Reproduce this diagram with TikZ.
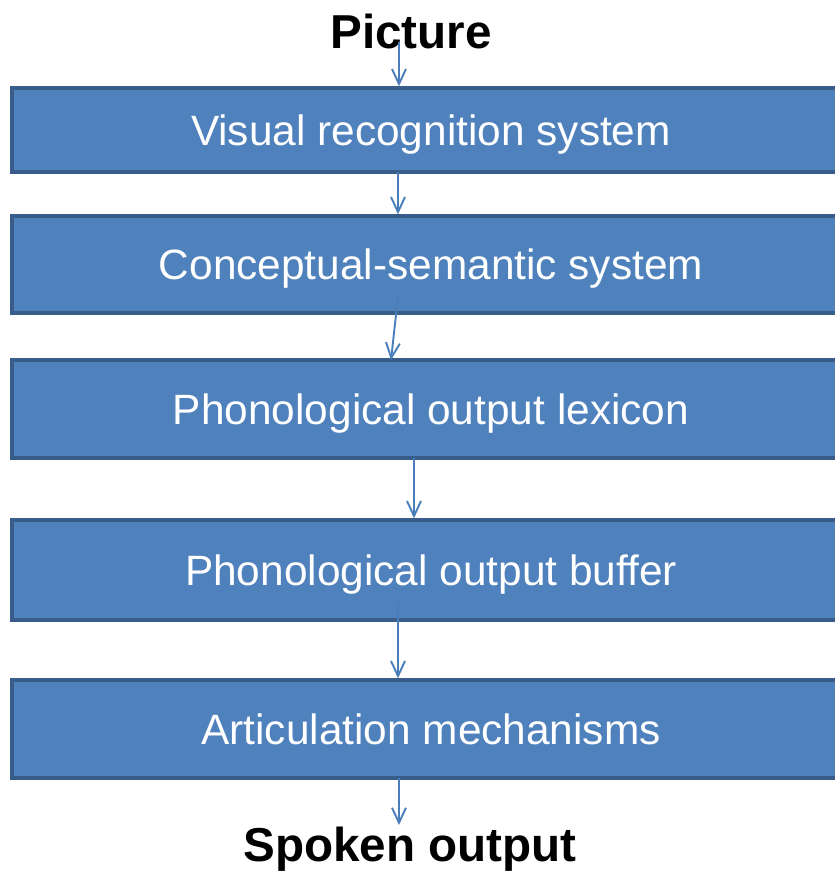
\documentclass[tikz,border=0pt]{standalone}
\usepackage{fontspec}
\setmainfont{Liberation Sans}
\usetikzlibrary{arrows.meta}
\definecolor{boxfill}{HTML}{4F81BD}
\definecolor{boxline}{HTML}{385D8A}
\definecolor{arrowc}{HTML}{4A7EBB}
\begin{document}
\begin{tikzpicture}[x=1pt,y=-1pt,
  stagebox/.style={draw=boxline, line width=3.5pt, fill=boxfill, text=white,
    minimum width=838pt, inner sep=0pt, text height=30pt, text depth=0pt,
    font=\fontsize{42.4}{50}\selectfont},
  endlabel/.style={inner sep=0pt, text height=34pt, text depth=0pt,
    font=\fontsize{47.6}{56}\bfseries\selectfont},
  arr/.style={draw=arrowc, line width=1.9pt,
    -{Straight Barb[length=15pt,width=14pt,line width=1.9pt]}}]
\useasboundingbox (0,0) rectangle (835,871);
\node[endlabel] (pic) at (411,31) {Picture};
\node[stagebox, minimum height=84pt] (b1) at (431,130) {Visual recognition system};
\node[stagebox, minimum height=97pt] (b2) at (431,264.5) {Conceptual-semantic system};
\node[stagebox, minimum height=98pt] (b3) at (431,409) {Phonological output lexicon};
\node[stagebox, minimum height=100pt] (b4) at (431,570) {Phonological output buffer};
\node[stagebox, minimum height=98pt] (b5) at (431,729) {Articulation mechanisms};
\node[endlabel] (out) at (410,844) {Spoken output};
\coordinate (s0) at (399,42);
\coordinate (s1) at (398,172);
\coordinate (s2) at (398,297);
\coordinate (e2) at (391,360);
\coordinate (s3) at (414,458);
\coordinate (s4) at (398,602);
\coordinate (s5) at (399,778);
\coordinate (e5) at (399,825);
\draw[arr] (s0) -- (s0 |- b1.north);
\draw[arr] (s1) -- (s1 |- b2.north);
\draw[arr] (s2) -- (e2);
\draw[arr] (s3) -- (s3 |- b4.north);
\draw[arr] (s4) -- (s4 |- b5.north);
\draw[arr] (s5) -- (e5);
\end{tikzpicture}
\end{document}
